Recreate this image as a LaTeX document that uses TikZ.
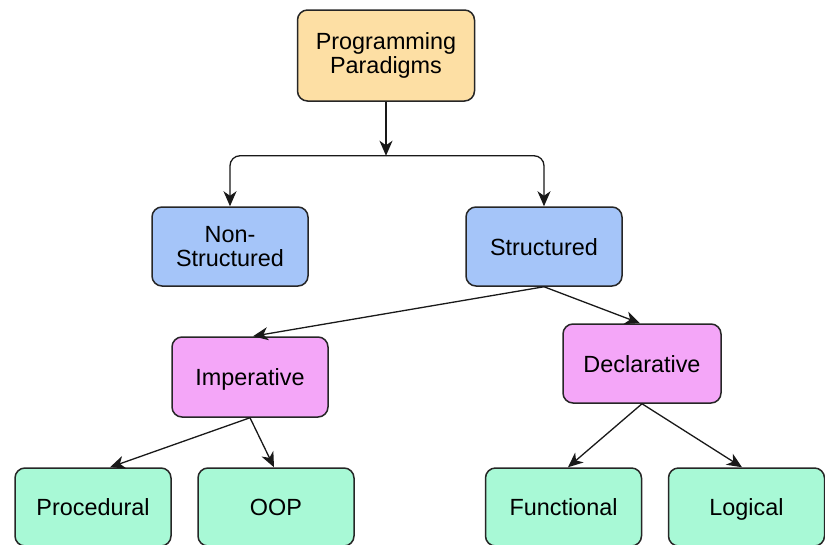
\documentclass[tikz,border=0pt]{standalone}
\usepackage{fontspec}
\setmainfont{Liberation Sans}
\usetikzlibrary{arrows.meta}
\usetikzlibrary{positioning}

\definecolor{rootfill}{HTML}{FDDFA4}
\definecolor{bluefill}{HTML}{A5C5F9}
\definecolor{pinkfill}{HTML}{F4A6F8}
\definecolor{greenfill}{HTML}{A8F9D6}

\begin{document}
\begin{tikzpicture}[
    every node/.style = {draw=black!85, line width=1.5pt, rounded corners=10pt,
      align=center, inner sep=0pt, minimum width=156pt, minimum height=79pt,
      font=\fontsize{23.4}{24}\selectfont},
    oneline/.style = {text height=18pt, text depth=1pt},
    link/.style = {line width=1.3pt, draw=black!90,
      -{Stealth[length=15pt, width=13pt, inset=4.5pt]}},
    on grid
  ]
          \useasboundingbox (0,0) rectangle (825pt,-544pt);
          \clip (0,0) rectangle (825pt,-544pt);

          \node[fill=rootfill, minimum width=177pt, minimum height=91pt] (pp) at (386pt,-55.5pt) {Programming\\Paradigms};
          \node[below left=191pt and 156pt of pp, fill=bluefill] (ns) {Non-\\Structured};
          \node[right=314pt of ns, fill=bluefill, oneline] (st) {Structured};
          \node[below left=130.5pt and 294pt of st, fill=pinkfill, minimum height=80pt, oneline] (imp) {Imperative};
          \node[below right=117pt and 98pt of st, fill=pinkfill, minimum width=158pt, oneline] (dec) {Declarative};
          \node[below left=130pt and 157pt of imp, fill=greenfill, minimum height=78pt, oneline] (proc) {Procedural};
          \node[right=183pt of proc, fill=greenfill, minimum height=78pt, oneline] (oop) {OOP};
          \node[below left=143.5pt and 78.5pt of dec, fill=greenfill, minimum height=78pt, oneline] (fun) {Functional};
          \node[right=183pt of fun, fill=greenfill, minimum height=78pt, oneline] (log) {Logical};

          % split point under the root box
          \coordinate (split) at ([yshift=-54pt]pp.south);

          \draw[link] (pp.south) -- (split);
          \draw[link, rounded corners=10pt] (split) -| (ns.north);
          \draw[link, rounded corners=10pt] (split) -| (st.north);

          \draw[link] (st.south) -- ([xshift=3pt]imp.north);
          \draw[link] (st.south) -- ([xshift=-2pt]dec.north);
          \draw[link] (imp.south) -- ([xshift=17pt]proc.north);
          \draw[link] (imp.south) -- ([xshift=-2pt]oop.north);
          \draw[link] (dec.south) -- ([xshift=4.5pt]fun.north);
          \draw[link] (dec.south) -- ([xshift=-4.5pt]log.north);
        \end{tikzpicture}
\end{document}
